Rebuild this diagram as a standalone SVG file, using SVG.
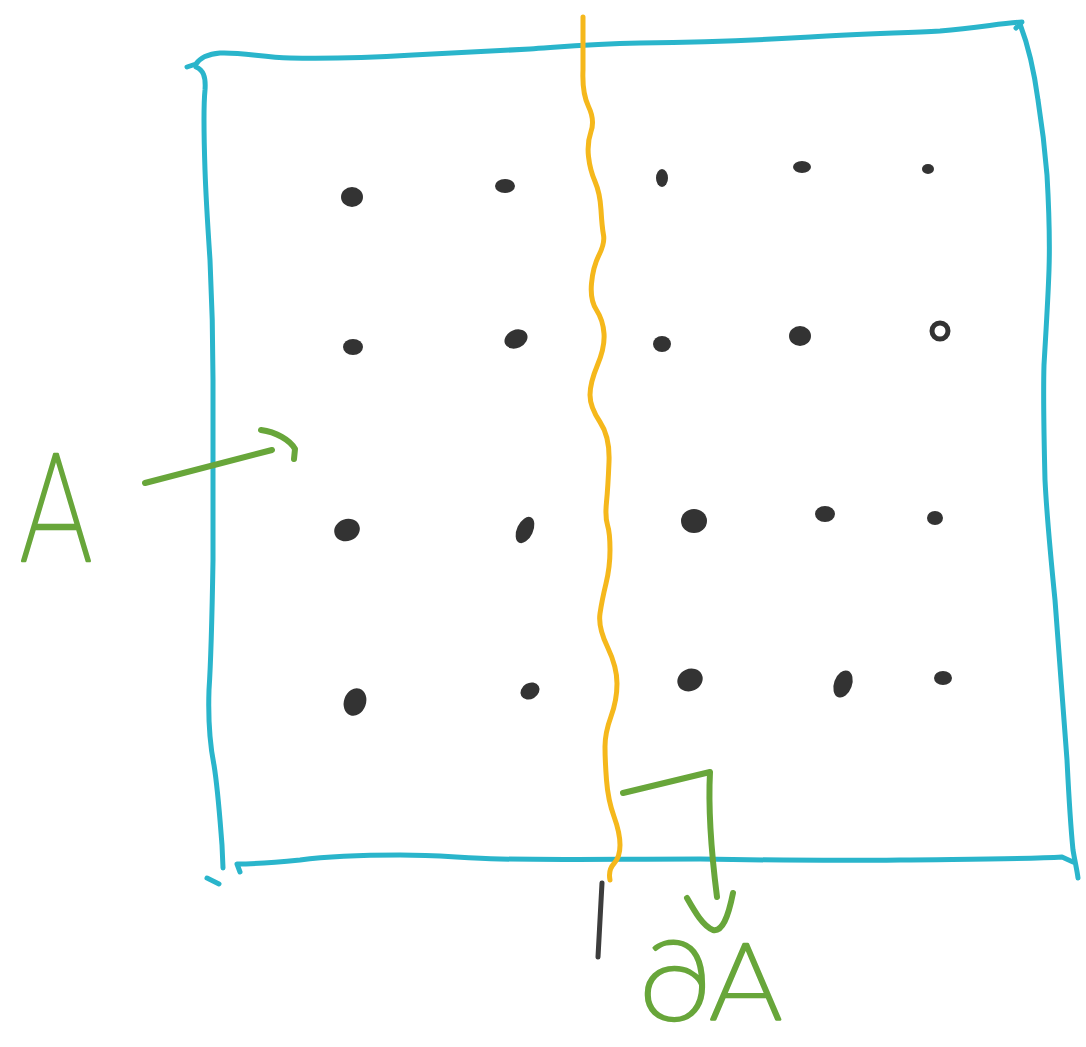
<svg xmlns="http://www.w3.org/2000/svg" width="1086" height="1047" viewBox="0 0 1086 1047">
<style>
.blue{fill:none;stroke:#2ab5cb;stroke-width:5;stroke-linecap:round;stroke-linejoin:round}
.yellow{fill:none;stroke:#f5b81c;stroke-width:5;stroke-linecap:round;stroke-linejoin:round}
.green{fill:none;stroke:#68a63a;stroke-width:6;stroke-linecap:round;stroke-linejoin:round}
.dark{fill:none;stroke:#3d3d3d;stroke-width:5;stroke-linecap:round}
.dot{fill:#333333}
.lbl{fill:#68a63a;stroke:#68a63a;stroke-width:2.5;stroke-linejoin:round;font-family:Roboto,"DejaVu Sans","Liberation Sans",sans-serif;font-weight:100}
</style>
<rect width="1086" height="1047" fill="#ffffff"/>
<g id="region-A">
<path class="blue" d="M187,67 L196,64 C200,58 208,54 220,53 C240,52 262,57 290,58 C330,59 380,57 413,55 C450,53 490,51 530,49 C560,47 590,44 640,43 C700,42 760,40 810,37 C860,34 900,33 940,31 C980,28 1000,23 1022,22 L1016,28"/>
<path class="blue" d="M1020,24 C1028,45 1034,70 1038,100 C1042,125 1045,150 1047,175 C1049,210 1050,240 1049,270 C1048,300 1046,330 1044,365 C1043,400 1044,440 1045,480 C1047,520 1051,560 1055,600 C1059,650 1063,700 1067,760 C1069,800 1071,830 1073,850 C1075,862 1077,870 1078,878"/>
<path class="blue" d="M196,67 C203,70 206,76 205,90 C203,110 204,140 205,170 C206,200 208,230 210,260 C212,300 213,340 213,380 C213,440 213,500 213,560 C212,620 211,660 209,690 C208,720 210,745 214,765 C218,790 220,820 222,845 L223,868"/>
<path class="blue" d="M207,878 L219,884"/>
<path class="blue" d="M240,872 L237,864 C260,864 280,862 300,860 C330,856 360,855 400,855 C440,855 460,858 500,859 C560,860 620,859 700,859 C760,860 820,861 900,860 C980,859 1030,859 1062,857 L1073,862"/>
</g>
<g id="points">
<ellipse class="dot" cx="352" cy="197" rx="11" ry="10"/>
<ellipse class="dot" cx="505" cy="186" rx="10" ry="7"/>
<ellipse class="dot" cx="662" cy="178" rx="6" ry="9"/>
<ellipse class="dot" cx="802" cy="167" rx="9" ry="6"/>
<ellipse class="dot" cx="928" cy="169" rx="6" ry="5"/>
<ellipse class="dot" cx="353" cy="347" rx="10" ry="8"/>
<ellipse class="dot" cx="516" cy="339" rx="12" ry="9" transform="rotate(-25 516 339)"/>
<ellipse class="dot" cx="662" cy="344" rx="9" ry="8"/>
<ellipse class="dot" cx="800" cy="336" rx="11" ry="10"/>
<ellipse cx="940" cy="331" rx="8" ry="8" fill="#ffffff" stroke="#333333" stroke-width="5"/>
<ellipse class="dot" cx="347" cy="530" rx="13" ry="11" transform="rotate(-20 347 530)"/>
<ellipse class="dot" cx="525" cy="530" rx="8" ry="14" transform="rotate(25 525 530)"/>
<ellipse class="dot" cx="694" cy="521" rx="13" ry="12"/>
<ellipse class="dot" cx="825" cy="514" rx="10" ry="8"/>
<ellipse class="dot" cx="935" cy="518" rx="8" ry="7"/>
<ellipse class="dot" cx="355" cy="702" rx="11" ry="14" transform="rotate(20 355 702)"/>
<ellipse class="dot" cx="530" cy="691" rx="10" ry="8" transform="rotate(-30 530 691)"/>
<ellipse class="dot" cx="690" cy="680" rx="13" ry="11" transform="rotate(-25 690 680)"/>
<ellipse class="dot" cx="843" cy="684" rx="9" ry="14" transform="rotate(20 843 684)"/>
<ellipse class="dot" cx="943" cy="678" rx="9" ry="7"/>
</g>
<g id="boundary">
<path class="yellow" d="M583,17 L583,70 Q582,93 588.5,106.5 Q595,120 591,131.5 Q587,143 588.5,156.5 Q590,170 595,181.5 Q600,193 601,210 Q602,227 603.5,235 Q605,243 599,255 Q593,267 591.5,283.5 Q590,300 596.5,310 Q603,320 604,333.5 Q605,347 597.5,365 Q590,383 590,395 Q590,407 600,422 Q610,437 609,462 Q608,487 606.5,502 Q605,517 607.5,525 Q610,533 610,550 Q610,567 606,583.5 Q602,600 600,613.5 Q598,627 607.5,647 Q617,667 617,683.5 Q617,700 611,716.5 Q605,733 605,746.5 Q605,760 606.5,780 Q608,800 614,816.5 Q620,833 620,845 Q620,857 614,863.5 Q608,870 610,880"/>
<path class="dark" d="M602,883 L598,957"/>
</g>
<g id="label-A">
<text class="lbl" x="20" y="561" font-size="150" textLength="72" lengthAdjust="spacingAndGlyphs">A</text>
</g>
<g id="label-dA">
<text class="lbl" x="640" y="1020" font-size="106" textLength="142" lengthAdjust="spacingAndGlyphs">∂A</text>
</g>
<g id="connectors">
<path class="green" d="M145,483 L272,450"/>
<path class="green" d="M261,430 C276,432 290,440 295,449 L294,459"/>
<path class="green" d="M623,793 L710,772 C708,810 711,850 717,897"/>
<path class="green" d="M687,898 C695,912 703,926 713,930 C722,932 728,918 733,893"/>
</g>
</svg>
